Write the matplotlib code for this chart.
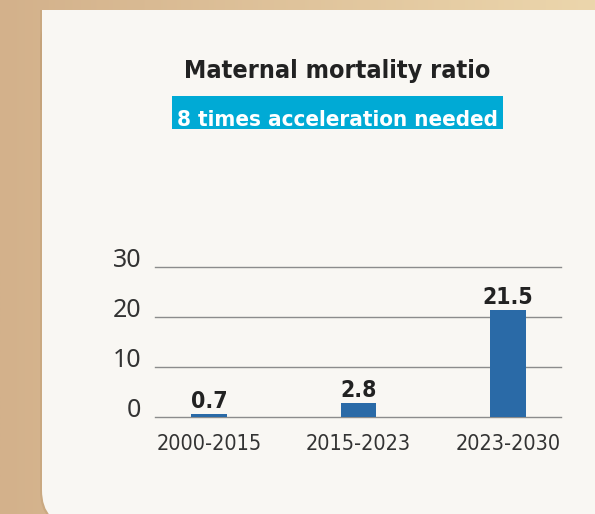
import matplotlib
matplotlib.use("Agg")
import matplotlib.pyplot as plt
from matplotlib import font_manager as fm
from matplotlib.patches import FancyBboxPatch, Rectangle
import numpy as np

# data
periods = ["2000-2015", "2015-2023", "2023-2030"]
rates = [0.7, 2.8, 21.5]
y_ticks = [0, 10, 20, 30]

title = "Maternal mortality ratio"
subtitle = "8 times acceleration needed"


def condensed(weight, size):
    # look for a condensed face, fall back to plain DejaVu
    for fam in ["Open Sans", "Noto Sans", "DejaVu Sans"]:
        try:
            path = fm.findfont(fm.FontProperties(family=fam, stretch="condensed", weight=weight),
                               fallback_to_default=False)
        except ValueError:
            continue
        if "ondensed" in path:
            return fm.FontProperties(fname=path, size=size)
    return fm.FontProperties(family="DejaVu Sans", weight=weight, size=size)


fig = plt.figure(figsize=(5.95, 5.14), dpi=100)

# background + card, in pixel coords
bg = fig.add_axes([0, 0, 1, 1])
bg.set_xlim(0, 595)
bg.set_ylim(514, 0)
bg.axis("off")
grad = np.linspace(0, 1, 256)[None, :, None]
left_col = np.array([211, 177, 139]) / 255
right_col = np.array([236, 214, 172]) / 255
bg.imshow(left_col + (right_col - left_col) * grad, extent=[0, 595, 514, 0], aspect="auto")

# card: square top-left corner, rounded bottom-left
bg.add_patch(FancyBboxPatch((40, 10), 600, 516, boxstyle="round,pad=0,rounding_size=35",
                            fc="#bf9d74", ec="none", alpha=0.45))
bg.add_patch(Rectangle((40, 10), 600, 100, fc="#bf9d74", ec="none", alpha=0.45))
bg.add_patch(FancyBboxPatch((42, 10), 600, 515, boxstyle="round,pad=0,rounding_size=35",
                            fc="#f9f7f3", ec="none"))
bg.add_patch(Rectangle((42, 10), 600, 100, fc="#f9f7f3", ec="none"))

bg.text(337, 78, title, ha="center", va="baseline", color="#222222",
        fontproperties=condensed("bold", 18))
bg.add_patch(Rectangle((172, 96), 331, 33, fc="#00aad5", ec="none"))
bg.text(337.5, 126, subtitle, ha="center", va="baseline", color="white",
        fontproperties=condensed("bold", 16))

# chart
ax = fig.add_axes([155 / 595, 1 - 417 / 514, 406 / 595, 150 / 514])
ax.set_facecolor("none")
x = np.arange(len(periods))
ax.bar(x, rates, width=0.24, color="#2a6aa7", zorder=3)

for xi, v in zip(x, rates):
    ax.annotate(f"{v}", (xi, v), xytext=(0, 4), textcoords="offset points",
                ha="center", va="baseline", color="#222222",
                fontproperties=condensed("bold", 16.5))

ax.set_xlim(-0.361, 2.355)
ax.set_ylim(0, 30)
ax.set_yticks(y_ticks)
ax.set_yticklabels([str(t) for t in y_ticks], family="Noto Sans", fontsize=18, color="#333333")
for lab in ax.get_yticklabels():
    lab.set_va("baseline")
ax.set_xticks(x)
ax.set_xticklabels(periods, color="#333333")
for lab in ax.get_xticklabels():
    lab.set_fontproperties(condensed("normal", 15.5))
ax.tick_params(axis="y", length=0, pad=10)
ax.tick_params(axis="x", length=0, pad=12)
ax.yaxis.grid(True, color="#8c8c8c", lw=1, zorder=0)
for line in ax.get_ygridlines():
    line.set_clip_on(False)
ax.set_axisbelow(True)
for s in ax.spines.values():
    s.set_visible(False)

fig.savefig("out.png", dpi=100)
